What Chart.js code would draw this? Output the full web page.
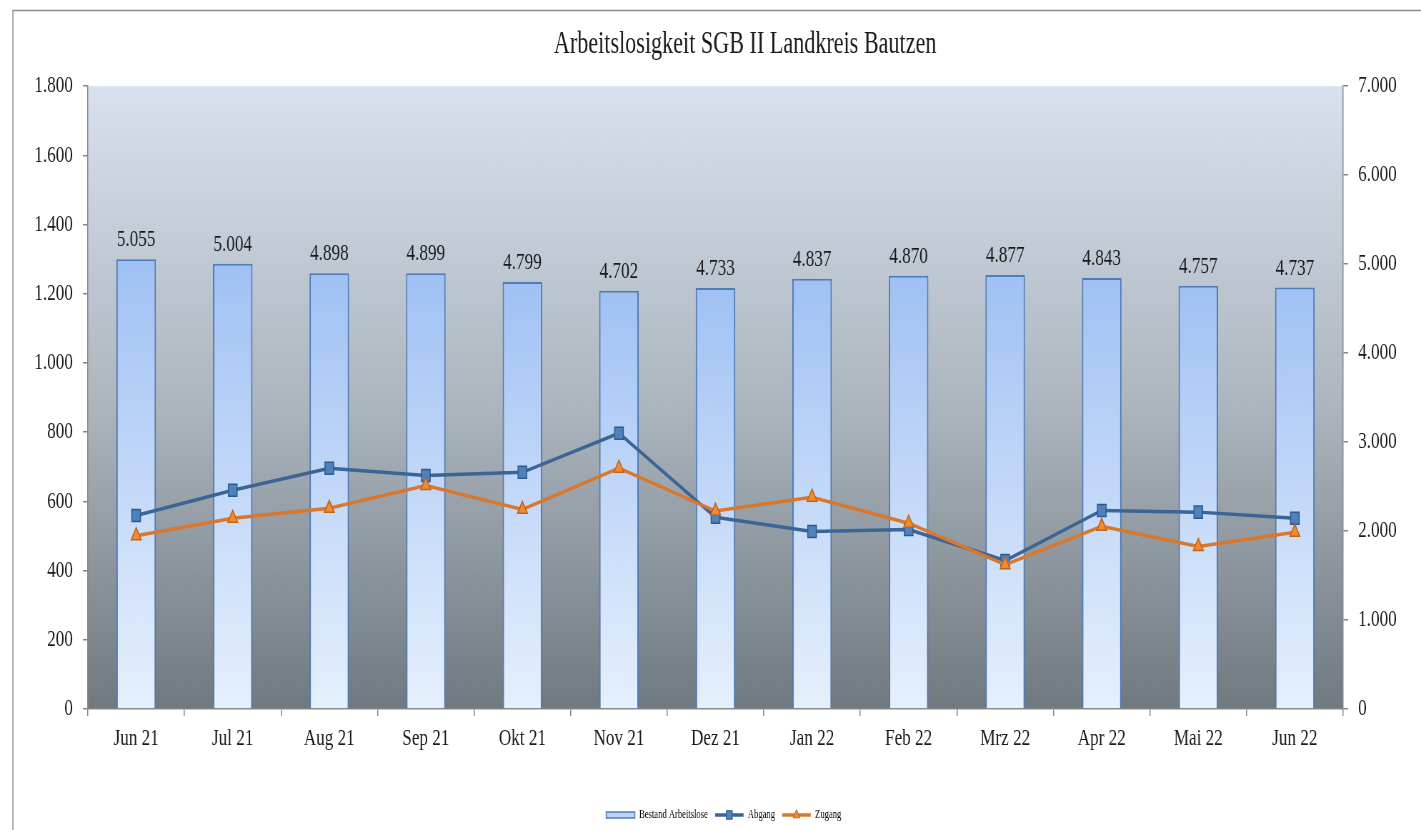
<!DOCTYPE html>
<html>
<head>
<meta charset="utf-8">
<script src="https://cdn.jsdelivr.net/npm/chart.js@4.4.0/dist/chart.umd.min.js"></script>
<style>
html,body{margin:0;padding:0;background:#fff;overflow:hidden;width:1421px;height:830px}
#c{display:block;width:1421px;height:830px}
</style>
</head>
<body>
<canvas id="c" width="1989" height="830" style="width:1421px;height:830px"></canvas>
<script>
// ---- data ----
const categories = ['Jun 21','Jul 21','Aug 21','Sep 21','Okt 21','Nov 21','Dez 21','Jan 22','Feb 22','Mrz 22','Apr 22','Mai 22','Jun 22'];
const bestand = [5055, 5004, 4898, 4899, 4799, 4702, 4733, 4837, 4870, 4877, 4843, 4757, 4737];
const abgang  = [559, 632, 696, 675, 684, 797, 554, 513, 519, 429, 574, 569, 551];
const zugang  = [501, 551, 580, 646, 577, 696, 572, 612, 537, 417, 528, 470, 511];
const seriesNames = ['Bestand Arbeitslose', 'Abgang', 'Zugang'];
const titleText = 'Arbeitslosigkeit SGB II Landkreis Bautzen';
const leftMax = 1800, leftStep = 200;
const rightMax = 7000, rightStep = 1000;

const fmt = v => String(Math.round(v)).replace(/\B(?=(\d{3})+(?!\d))/g, '.');
const FONT = '"Liberation Serif", "Times New Roman", serif';
const TXT = '#1a1a1a';
const AX = '#868686';

const colors = {
  barBorder: '#4f7db8', barTop: '#a0c1f4', barBottom: '#e6f0fd',
  abLine: '#3b6596', abFill: '#4f81bd', abBorder: '#2d5a8c',
  zuLine: '#d9782d', zuFill: '#f08c2e', zuBorder: '#c0641c'
};

const bgPlugin = {
  id: 'bg',
  beforeDraw(chart) {
    const {ctx, chartArea: ca} = chart;
    ctx.save();
    ctx.strokeStyle = '#8c8c8c';
    ctx.lineWidth = 1.5;
    ctx.beginPath();
    ctx.moveTo(18, 840); ctx.lineTo(18, 10.5); ctx.lineTo(2000, 10.5);
    ctx.stroke();
    const g = ctx.createLinearGradient(0, ca.top, 0, ca.bottom);
    g.addColorStop(0, '#d7e2ee');
    g.addColorStop(0.5, '#aeb6bf');
    g.addColorStop(1, '#707880');
    ctx.fillStyle = g;
    ctx.fillRect(ca.left, ca.top, ca.right - ca.left, ca.bottom - ca.top);
    ctx.restore();
  }
};

const labelPlugin = {
  id: 'barLabels',
  afterDatasetsDraw(chart) {
    const meta = chart.getDatasetMeta(0);
    const {ctx} = chart;
    ctx.save();
    ctx.font = '24px ' + FONT;
    ctx.fillStyle = TXT;
    ctx.textAlign = 'center';
    ctx.textBaseline = 'alphabetic';
    meta.data.forEach((el, i) => {
      ctx.fillText(fmt(bestand[i]), el.x, el.y - 13);
    });
    ctx.restore();
  }
};

const posPlugin = {
  id: 'pos',
  afterLayout(chart) {
    const t = chart.titleBlock;
    if (t) { const dx = 1043 - (t.left + t.right) / 2; t.left += dx; t.right += dx; }
    const l = chart.legend;
    if (l) {
      const dx = 1013 - (l.left + l.right) / 2;
      const dy = 815 - (l.top + 10 + 6);
      l.left += dx; l.right += dx; l.top += dy; l.bottom += dy;
    }
  },
  afterDraw(chart) {
    const l = chart.legend;
    if (!l || !l.legendHitBoxes) return;
    const {ctx} = chart;
    const bw = l.options.labels.boxWidth;
    const specs = [null,
      {line: colors.abLine, fill: colors.abFill, border: colors.abBorder, style: 'rect', r: 6},
      {line: colors.zuLine, fill: colors.zuFill, border: colors.zuBorder, style: 'triangle', r: 5.5}];
    l.legendItems.forEach((item, i) => {
      const s = specs[item.datasetIndex];
      if (!s) return;
      const hb = l.legendHitBoxes[i];
      const cy = hb.top + hb.height / 2;
      ctx.save();
      ctx.strokeStyle = s.line;
      ctx.lineWidth = 3.5;
      ctx.beginPath();
      ctx.moveTo(hb.left, cy); ctx.lineTo(hb.left + bw, cy);
      ctx.stroke();
      ctx.fillStyle = s.fill; ctx.strokeStyle = s.border; ctx.lineWidth = 1;
      Chart.helpers.drawPoint(ctx, {pointStyle: s.style, radius: s.r, borderWidth: 1}, hb.left + bw / 2, cy);
      ctx.restore();
    });
  }
};

const barGradient = (c) => {
  const chart = c.chart;
  const y1 = chart.scales && chart.scales.y1;
  if (!y1 || !chart.chartArea || c.raw === undefined) return colors.barTop;
  const top = y1.getPixelForValue(c.raw);
  const bottom = y1.getPixelForValue(0);
  if (!isFinite(top) || !isFinite(bottom)) return colors.barTop;
  const g = chart.ctx.createLinearGradient(0, top, 0, bottom);
  g.addColorStop(0, colors.barTop);
  g.addColorStop(1, colors.barBottom);
  return g;
};

new Chart(document.getElementById('c'), {
  data: {
    labels: categories,
    datasets: [
      {
        type: 'bar', label: seriesNames[0], data: bestand, yAxisID: 'y1', order: 3,
        backgroundColor: barGradient, borderColor: colors.barBorder, borderWidth: 2,
        barPercentage: 0.41, categoryPercentage: 1
      },
      {
        type: 'line', label: seriesNames[1], data: abgang, yAxisID: 'y', order: 2,
        borderColor: colors.abLine, borderWidth: 3.5, tension: 0,
        pointStyle: 'rect', pointRadius: 8.5, pointBackgroundColor: colors.abFill,
        pointBorderColor: colors.abBorder, pointBorderWidth: 1.5, fill: false
      },
      {
        type: 'line', label: seriesNames[2], data: zugang, yAxisID: 'y', order: 1,
        borderColor: colors.zuLine, borderWidth: 3.5, tension: 0,
        pointStyle: 'triangle', pointRadius: 8, pointBackgroundColor: colors.zuFill,
        pointBorderColor: colors.zuBorder, pointBorderWidth: 1.5, fill: false
      }
    ]
  },
  options: {
    responsive: false,
    maintainAspectRatio: false,
    devicePixelRatio: 1,
    animation: false,
    events: [],
    layout: {padding: {left: 0, right: 0, top: 0, bottom: 0}},
    plugins: {
      tooltip: {enabled: false},
      title: {
        display: true, text: titleText, color: TXT,
        font: {family: FONT, size: 31, weight: 'normal', lineHeight: 1.2},
        padding: {top: 26, bottom: 23}
      },
      legend: {
        display: true, position: 'bottom',
        labels: {
          font: {family: FONT, size: 12}, color: '#333', boxWidth: 40, boxHeight: 6, padding: 10,
          sort: (a, b) => a.datasetIndex - b.datasetIndex,
          generateLabels: () => [
            {text: seriesNames[0], fillStyle: '#bcd4f7', strokeStyle: colors.barBorder, lineWidth: 1.5, datasetIndex: 0, hidden: false},
            {text: seriesNames[1], fillStyle: 'rgba(0,0,0,0)', strokeStyle: 'rgba(0,0,0,0)', lineWidth: 0, datasetIndex: 1, hidden: false},
            {text: seriesNames[2], fillStyle: 'rgba(0,0,0,0)', strokeStyle: 'rgba(0,0,0,0)', lineWidth: 0, datasetIndex: 2, hidden: false}
          ]
        }
      }
    },
    scales: {
      x: {
        type: 'category', offset: true,
        grid: {display: true, offset: true, drawOnChartArea: false, drawTicks: true, tickLength: 7, color: AX, lineWidth: 1.5},
        border: {display: true, color: AX, width: 1.5},
        ticks: {font: {family: FONT, size: 24}, color: TXT, padding: 8, maxRotation: 0, autoSkip: false},
        afterFit: s => { s.height = 89; }
      },
      y: {
        position: 'left', min: 0, max: leftMax,
        grid: {display: true, drawOnChartArea: false, drawTicks: true, tickLength: 7, color: AX, lineWidth: 1.5},
        border: {display: true, color: AX, width: 1.5},
        ticks: {stepSize: leftStep, font: {family: FONT, size: 24}, color: TXT, padding: 14, callback: v => fmt(v)},
        afterFit: s => { s.width = 123; }
      },
      y1: {
        position: 'right', min: 0, max: rightMax,
        grid: {display: true, drawOnChartArea: false, drawTicks: true, tickLength: 7, color: AX, lineWidth: 1.5},
        border: {display: true, color: AX, width: 1.5},
        ticks: {stepSize: rightStep, font: {family: FONT, size: 24}, color: TXT, padding: 14, callback: v => fmt(v)},
        afterFit: s => { s.width = 109; }
      }
    }
  },
  plugins: [bgPlugin, labelPlugin, posPlugin]
});
</script>
</body>
</html>
